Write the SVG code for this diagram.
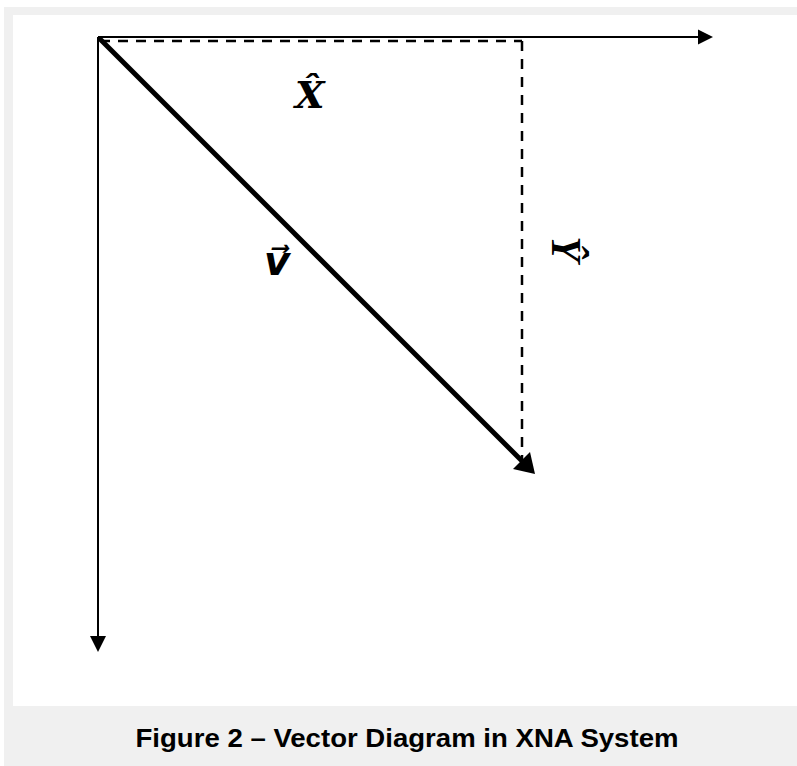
<svg xmlns="http://www.w3.org/2000/svg" width="797" height="766" viewBox="0 0 797 766">
<defs>
<style>
.axis{stroke:#000;stroke-width:2;fill:none}
.dash{stroke:#000;stroke-width:2.5;fill:none;stroke-dasharray:10 8}
.vec{stroke:#000;stroke-width:5;fill:none}
.lbl{font-family:"Liberation Serif","DejaVu Serif",serif;font-weight:bold;font-style:italic;fill:#000}
.cap{font-family:"Liberation Sans","Arial",sans-serif;font-weight:bold;fill:#000}
</style>
</defs>
<rect x="0" y="0" width="797" height="766" fill="#fff"/>
<rect x="4" y="7" width="793" height="759" fill="#f0f0f0"/>
<rect x="13" y="15" width="784" height="691" fill="#fff"/>
<g id="connectors">
<line class="dash" x1="100" y1="41" x2="522" y2="41"/>
<line class="dash" x1="522" y1="41" x2="522" y2="460"/>
<line class="axis" x1="98" y1="37" x2="699" y2="37"/>
<polygon points="698,29.5 713,37 698,44.5" fill="#000"/>
<line class="axis" x1="98" y1="37" x2="98" y2="637"/>
<polygon points="90,636 106,636 98,652" fill="#000"/>
<line class="vec" x1="99" y1="38" x2="522" y2="461"/>
<polygon points="535,474 513,469 530,452" fill="#000"/>
</g>
<g id="label-x">
<text class="lbl" x="295" y="108" font-size="38" style="font-family:'DejaVu Serif',serif">X̂</text>
</g>
<g id="label-v">
<text class="lbl" x="264" y="275" font-size="40" style="font-family:'DejaVu Sans',sans-serif">v⃗</text>
</g>
<g id="label-y">
<text class="lbl" transform="translate(552,249) rotate(90)" x="0" y="0" font-size="42" text-anchor="middle">Ŷ</text>
</g>
<g id="caption">
<text class="cap" x="407" y="747" font-size="26" text-anchor="middle" textLength="543" lengthAdjust="spacingAndGlyphs">Figure 2 – Vector Diagram in XNA System</text>
</g>
</svg>
